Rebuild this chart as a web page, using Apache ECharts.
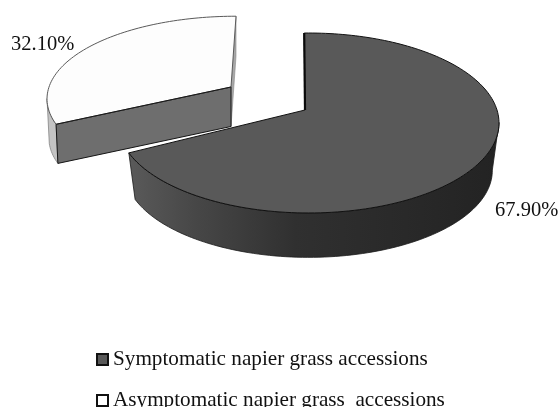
<!DOCTYPE html>
<html><head><meta charset="utf-8">
<style>html,body{margin:0;padding:0;background:#fff}#c{width:560px;height:407px}</style>
<script src="https://cdn.jsdelivr.net/npm/echarts@6/dist/echarts.min.js"></script>
</head><body><div id="c"></div>
<script>
var categories = ['Symptomatic napier grass accessions', 'Asymptomatic napier grass  accessions'];
var shares = [67.9, 32.1];
var K = 0.1444;
var FONT = '"Liberation Serif","Times New Roman",serif';

function pt(d, deg, s, dy) {
  var a = deg * Math.PI / 180, den = 1 + K * Math.cos(a);
  return [d.cx + Math.sin(a) * d.R * s / den, d.cy + dy - Math.cos(a) * d.S * s / den];
}
function arc(d, a, b, s, dy) {
  var out = [], n = Math.ceil(Math.abs(b - a) / 1.5);
  for (var i = 0; i <= n; i++) out.push(pt(d, a + (b - a) * i / n, s, dy));
  return out;
}
function poly(points, style, z2) {
  return { type: 'polygon', z2: z2 || 0, shape: { points: points }, style: style };
}
function line(points, stroke, w, z2) {
  return { type: 'polyline', z2: z2 || 0, shape: { points: points }, style: { stroke: stroke, lineWidth: w, fill: null } };
}
function label(text, x, y) {
  return { type: 'text', z2: 20, style: { text: text, x: x, y: y, fill: '#111', font: '20.5px ' + FONT, textAlign: 'left', textVerticalAlign: 'middle' } };
}

var mainDisc = { cx: 308.5, cy: 110, R: 188.5, S: 88.1, rot: -1.5, ax: 305, ay: 110, s: 0.965, dy: 48 };
var cutDisc = { cx: 236, cy: 87, R: 187, S: 81, rot: 0, ax: 231, ay: 87, s: 0.99, dy: 39.5 };

function renderMain(params, api) {
  var d = mainDisc, val = api.value(0);
  var a0 = d.rot, a1 = d.rot + val * 3.6;
  var top = arc(d, a0, a1, 1, 0);
  var sideStart = 98;
  var side = arc(d, sideStart, a1, 1, 0).concat(arc(d, a1, sideStart, d.s, d.dy));
  var apex = [d.ax, d.ay];
  var sideFill = new echarts.graphic.LinearGradient(0, 0, 1, 0, [
    { offset: 0, color: '#5a5a5a' }, { offset: 0.18, color: '#474747' },
    { offset: 0.45, color: '#303030' }, { offset: 1, color: '#232323' }
  ]);
  return { type: 'group', children: [
    poly(side, { fill: sideFill, stroke: '#1a1a1a', lineWidth: 0.8 }, 1),
    poly([apex].concat(top), { fill: '#595959', stroke: '#111', lineWidth: 1 }, 2),
    line([top[0], apex], '#0a0a0a', 2.2, 3),
    label(val.toFixed(2) + '%', 495, 211)
  ] };
}
function renderCut(params, api) {
  var d = cutDisc, val = api.value(0);
  var a1 = 360 + d.rot, a0 = a1 - val * 3.6;
  var top = arc(d, a0, a1, 1, 0);
  var apex = [d.ax, d.ay], apexB = [d.ax, d.ay + d.dy];
  var c0 = pt(d, a0, 1, 0), c0b = pt(d, a0, d.s, d.dy);
  var rim = arc(d, a0, 262, 1, 0).concat(arc(d, 258, a0, d.s, d.dy));
  var e1 = pt(d, a1, 1, 0), e1b = pt(d, a1, d.s, d.dy);
  return { type: 'group', children: [
    poly(rim, { fill: '#c4c4c4', stroke: '#777', lineWidth: 0.7 }, 1),
    poly([e1, e1b, apexB, apex], { fill: '#a8a8a8', stroke: '#888', lineWidth: 0.6 }, 1),
    poly([apex, c0, c0b, apexB], { fill: '#6e6e6e', stroke: '#161616', lineWidth: 1 }, 2),
    poly([apex].concat(top), { fill: '#fdfdfd', stroke: '#5a5a5a', lineWidth: 1 }, 3),
    line([c0, apex], '#161616', 1, 4),
    label(val.toFixed(2) + '%', 11, 45)
  ] };
}

function legendFor(i, top, fill) {
  return {
    orient: 'horizontal', left: 91, top: top, itemWidth: 11, itemHeight: 11,
    selectedMode: false, icon: 'rect',
    textStyle: { fontFamily: FONT, fontSize: 21.2, color: '#111', padding: [0, 0, 0, 0] },
    data: [{ name: categories[i], itemStyle: { color: fill, borderColor: '#111', borderWidth: 2 } }]
  };
}

var chart = echarts.init(document.getElementById('c'), null, { renderer: 'canvas' });
chart.setOption({
  backgroundColor: '#fff',
  animation: false,
  legend: [legendFor(0, 344, '#595959'), legendFor(1, 385, '#fff')],
  series: [
    { type: 'custom', name: categories[1], coordinateSystem: 'none', silent: true, z: 1,
      renderItem: renderCut, data: [[shares[1]]] },
    { type: 'custom', name: categories[0], coordinateSystem: 'none', silent: true, z: 2,
      renderItem: renderMain, data: [[shares[0]]] }
  ]
});
</script></body></html>
